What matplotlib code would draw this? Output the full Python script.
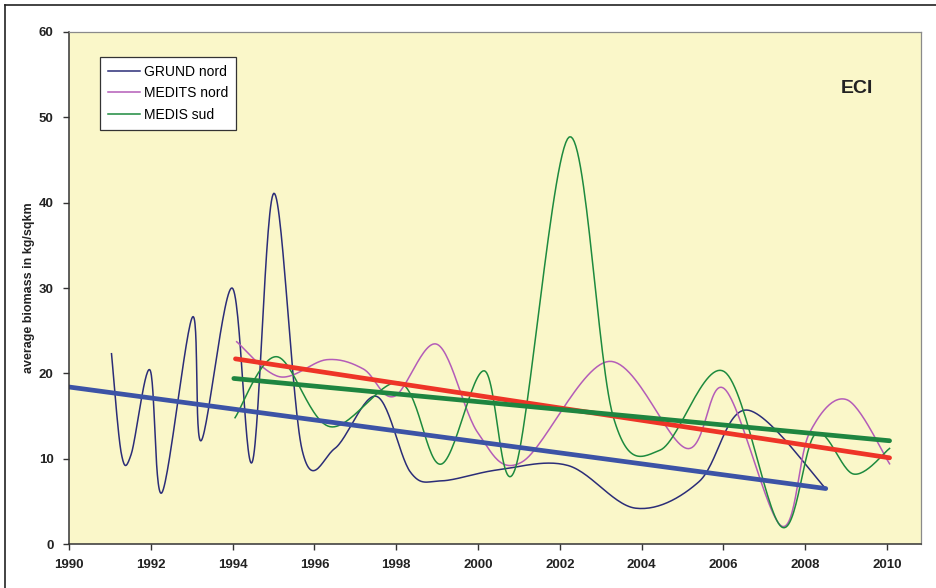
import numpy as np
import matplotlib
matplotlib.use('Agg')
import matplotlib.pyplot as plt
from matplotlib.lines import Line2D

plt.rcParams['font.family'] = ['Liberation Sans', 'DejaVu Sans']

# GRUND nord (survey points)
grund_x = [1991.04, 1991.28, 1991.52, 1991.98, 1992.27, 1993.02, 1993.23, 1993.99, 1994.48, 1995.01,
           1995.7, 1996.5, 1997.52, 1998.35, 1999.1, 2000.5, 2002.2, 2003.85, 2005.4, 2006.57, 2008.5]
grund_y = [22.3, 10.6, 10.5, 20.4, 6.0, 26.6, 12.1, 30.0, 9.6, 41.1,
           11.0, 11.2, 17.3, 8.4, 7.4, 8.7, 9.2, 4.2, 7.3, 15.7, 6.5]

# MEDITS nord
medits_x = [1994.1, 1995.15, 1996.3, 1997.2, 1997.95, 1999.0, 2000.0, 2001.07, 2003.2,
            2005.1, 2006.02, 2007.42, 2008.1, 2009.02, 2010.06]
medits_y = [23.7, 19.6, 21.6, 20.5, 17.3, 23.4, 13.0, 9.6, 21.4,
            11.2, 18.2, 2.1, 13.0, 16.9, 9.4]

# MEDIS sud
medis_x = [1994.06, 1995.08, 1996.38, 1998.1, 1999.09, 2000.15, 2000.9, 2002.23, 2003.3,
           2004.45, 2006.02, 2007.42, 2008.25, 2009.18, 2010.06]
medis_y = [14.8, 21.95, 13.75, 18.9, 9.35, 20.3, 8.7, 47.7, 15.0,
           11.0, 20.2, 2.0, 12.9, 8.2, 11.2]

# linear trends (end points)
trend_grund_x = [1990.0, 2008.5]
trend_grund_y = [18.4, 6.5]
trend_medits_x = [1994.07, 2010.06]
trend_medits_y = [21.7, 10.1]
trend_medis_x = [1994.03, 2010.06]
trend_medis_y = [19.4, 12.1]


def smooth(xs, ys, n=30):
    # excel-like smoothed line (uniform catmull-rom as bezier)
    p = np.column_stack([xs, ys]).astype(float)
    p = np.vstack([p[0], p, p[-1]])
    t = np.linspace(0, 1, n)[:, None]
    out = []
    for i in range(1, len(p) - 2):
        b0 = p[i]
        b1 = p[i] + (p[i + 1] - p[i - 1]) / 6.0
        b2 = p[i + 1] - (p[i + 2] - p[i]) / 6.0
        b3 = p[i + 1]
        seg = (1 - t)**3 * b0 + 3 * (1 - t)**2 * t * b1 + 3 * (1 - t) * t**2 * b2 + t**3 * b3
        out.append(seg if i == 1 else seg[1:])
    out = np.vstack(out)
    return out[:, 0], out[:, 1]


fig = plt.figure(figsize=(9.37, 5.88), dpi=100)
ax = fig.add_axes([0.0736, 0.0748, 0.9094, 0.8708])
ax.set_facecolor('#faf7c9')

sx, sy = smooth(grund_x, grund_y)
ax.plot(sx, sy, color='#2b2d78', lw=1.1, label='GRUND nord')
sx, sy = smooth(medits_x, medits_y)
ax.plot(sx, sy, color='#b45cb8', lw=1.1, label='MEDITS nord')
sx, sy = smooth(medis_x, medis_y)
ax.plot(sx, sy, color='#1d8a3e', lw=1.1, label='MEDIS sud')

ax.plot(trend_grund_x, trend_grund_y, color='#3c53a6', lw=3.4, solid_capstyle='round')
ax.plot(trend_medits_x, trend_medits_y, color='#ee3427', lw=3.4, solid_capstyle='round')
ax.plot(trend_medis_x, trend_medis_y, color='#1e8540', lw=3.4, solid_capstyle='round')

ax.set_xlim(1990, 2010.83)
ax.set_ylim(0, 60)
ax.set_xticks(np.arange(1990, 2011, 2))
ax.set_yticks(np.arange(0, 61, 10))
ax.tick_params(direction='out', length=4, width=1, colors='#333333', labelsize=9.5, pad=7)
for lab in ax.get_xticklabels() + ax.get_yticklabels():
    lab.set_fontweight('bold')
    lab.set_color('#222222')

for s in ['left', 'bottom']:
    ax.spines[s].set_color('#333333')
    ax.spines[s].set_linewidth(1.1)
for s in ['top', 'right']:
    ax.spines[s].set_color('#8a8a8a')
    ax.spines[s].set_linewidth(0.9)

ax.set_ylabel('average biomass in kg/sqkm', fontsize=9, fontweight='bold', color='#222222', labelpad=3)

ax.text(0.925, 0.89, 'ECI', transform=ax.transAxes, fontsize=14, fontweight='bold',
        color='#222222', ha='center', va='center')

leg = ax.legend(loc='upper left', bbox_to_anchor=(0.0364, 0.951), fontsize=10, frameon=True,
                fancybox=False, borderpad=0.55, handlelength=2.3, handletextpad=0.35,
                labelspacing=0.55, borderaxespad=0)
leg.get_frame().set_edgecolor('#333333')
leg.get_frame().set_linewidth(0.9)
leg.get_frame().set_facecolor('white')
leg.get_frame().set_alpha(1)

# outer border of the chart (top and left only visible)
fig.lines.append(Line2D([5 / 937, 1], [1 - 5 / 588, 1 - 5 / 588], transform=fig.transFigure,
                        color='#222222', lw=1.2))
fig.lines.append(Line2D([5 / 937, 5 / 937], [0, 1 - 5 / 588], transform=fig.transFigure,
                        color='#222222', lw=1.2))

fig.savefig('out.png', dpi=100)
